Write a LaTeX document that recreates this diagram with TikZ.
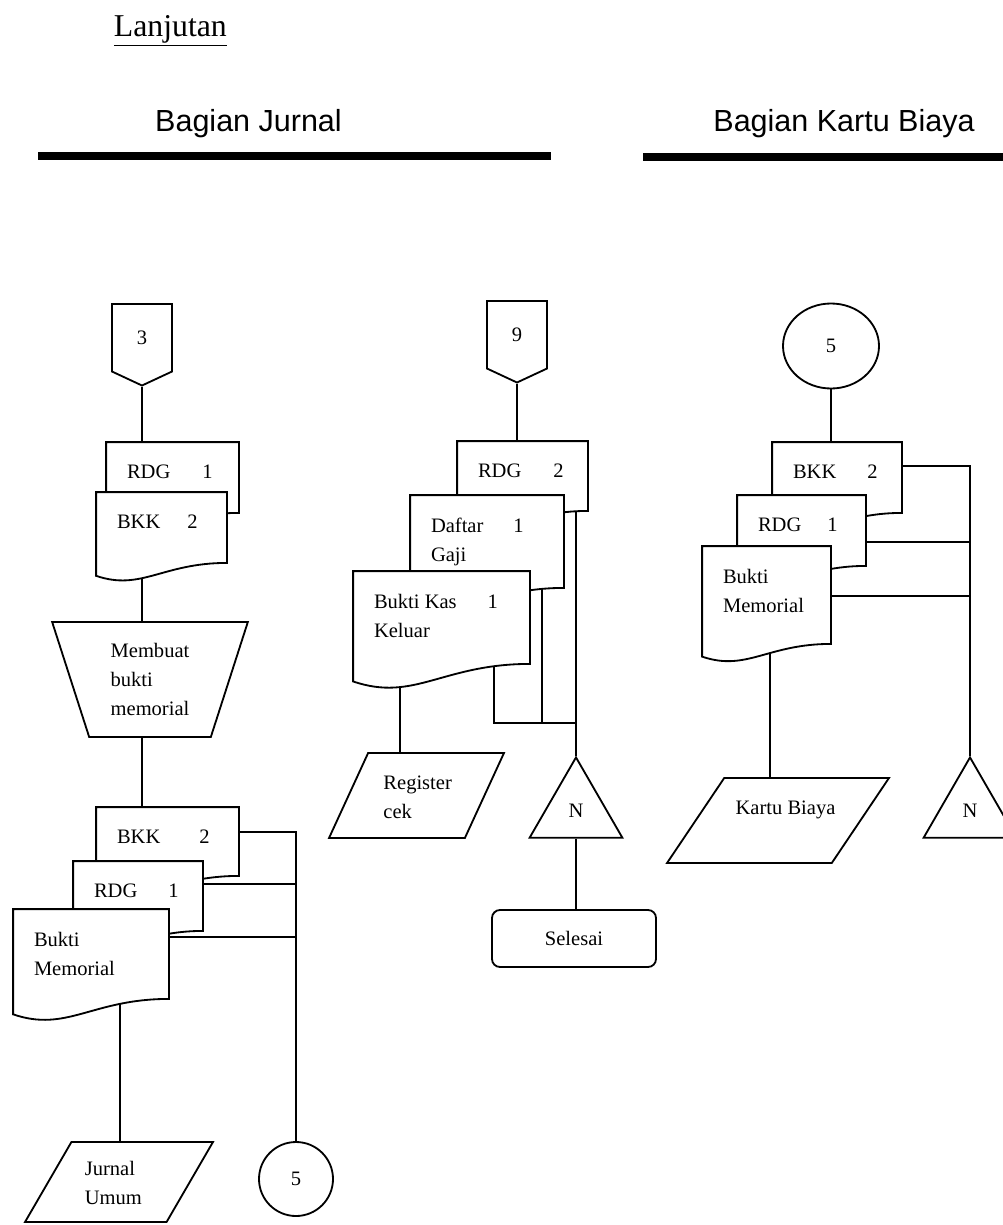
\documentclass[tikz,border=0pt]{standalone}
\usepackage{fontspec}
\setmainfont{Liberation Serif}
\newfontfamily\headfont{Liberation Sans}
\usetikzlibrary{shapes.geometric,shapes.symbols,fit,calc,backgrounds}

\newcommand{\flowfont}{\fontsize{14.6}{20.6}\selectfont}

\tikzset{
  flowline/.style={line width=1.3pt},
  docbox/.style={inner sep=0pt},
  docline/.style={draw, fill=white, line width=1.3pt},
  doctext/.style={font=\flowfont, align=left, inner sep=0pt, anchor=north west},
  offpage/.style={signal, signal to=south, signal from=nowhere, signal pointer angle=130,
    draw, fill=white, line width=1.3pt, font=\flowfont, inner sep=0pt,
    minimum width=15mm, minimum height=17.5mm, anchor=north},
  manualop/.style={trapezium, trapezium left angle=71.7, trapezium right angle=71.7,
    shape border rotate=180, trapezium stretches=true, draw, line width=1.3pt,
    font=\flowfont, align=left, inner sep=0pt, minimum width=49mm, minimum height=28.75mm},
  iobox/.style={trapezium, trapezium stretches=true, draw, line width=1.3pt,
    inner sep=2pt, minimum height=21.25mm},
  onpage/.style={circle, draw, line width=1.3pt, font=\flowfont, inner sep=0pt},
  mergetri/.style={regular polygon, regular polygon sides=3, draw, line width=1.3pt,
    font=\flowfont, inner sep=0pt, minimum size=26.8mm},
  endbox/.style={rectangle, rounded corners=2mm, draw, line width=1.3pt, font=\flowfont,
    minimum width=41mm, minimum height=14.25mm},
  headtext/.style={font=\headfont\fontsize{21.7}{26}\selectfont, anchor=base},
  headrule/.style={line width=2mm},
}

% document sheet: name, left, top, width, height, text
\newcommand{\docsheet}[6]{%
  \node[docbox, fit={(#2,#3) (#2+#4,#3+#5)}] (#1) {};
  \draw[docline] (#1.north west) -- (#1.north east) -- (#1.south east)
    .. controls ($(#1.south east)+(-0.5*#4,0)$) and ($(#1.south west)+(0.35*#4,0.22*#4)$)
    .. ($(#1.south west)+(0,0.1*#4)$) -- cycle;
  \node[doctext] (#1-t) at ([shift={(20,22)}]#1.north west) {#6};
}

\begin{document}
\begin{tikzpicture}[x=0.25mm, y=-0.25mm, flowline]
\useasboundingbox (0,0) rectangle (1003,1225);

% headings
\node[anchor=base west, font=\fontsize{22.6}{26}\selectfont, inner sep=0pt] (lanjut) at (113,37) {\underline{Lanjutan}};
\node[headtext] (hJurnal) at (248.5,132) {Bagian Jurnal};
\node[headtext] (hKartu) at (844,132) {Bagian Kartu Biaya};
\coordinate (ruleJa) at (38,156);
\coordinate (ruleJb) at (551,156);
\coordinate (ruleKa) at (643,157);
\coordinate (ruleKb) at (1010,157);
\draw[headrule] (ruleJa) -- (ruleJb);
\draw[headrule] (ruleKa) -- (ruleKb);

% Bagian Jurnal, first column
\node[offpage] (off3) at (142,303) {3};
\docsheet{rdgA}{107}{443}{131}{69}{RDG\hspace{8mm}1}
\docsheet{bkkA}{97}{493}{129}{69}{BKK\hspace{6.75mm}2}
\node[manualop] (buatBM) at (150,679.5) {Membuat\\bukti\\memorial};
\docsheet{bkkB}{97}{808}{141}{67}{BKK\hspace{9.75mm}2}
\docsheet{rdgB}{74}{862}{128}{68}{RDG\hspace{7.75mm}1}
\docsheet{bmB}{14}{910}{154}{88}{Bukti\\Memorial}
\node[iobox, trapezium left angle=64, trapezium right angle=116, minimum width=47mm, minimum height=20mm] (jurnal) at (119,1182) {};
\node[doctext] (jurnal-t) at ([shift={(13,19)}]jurnal.top left corner) {Jurnal\\Umum};
\node[onpage, minimum size=18.5mm] (fiveB) at (296,1179) {5};

% Bagian Jurnal, second column
\node[offpage] (off9) at (517,300) {9};
\docsheet{rdgC}{458}{442}{129}{68}{RDG\hspace{8mm}2}
\docsheet{gajiC}{411}{496}{152}{91}{Daftar\hspace{7.5mm}1\\Gaji}
\docsheet{kasC}{354}{572}{175}{91}{Bukti Kas\hspace{7.75mm}1\\Keluar}
\node[iobox, trapezium left angle=68, trapezium right angle=112, minimum width=43.75mm] (regcek) at (416.5,795.5) {};
\node[doctext] (regcek-t) at ([shift={(15,23)}]regcek.top left corner) {Register\\cek};
\node[mergetri] (nC) at (576,811) {N};
\node[endbox] (selesai) at (574,938.5) {Selesai};
\coordinate (joinC) at (576,723);

% Bagian Kartu Biaya
\node[onpage, ellipse, minimum width=24mm, minimum height=21.25mm] (fiveD) at (831,346) {5};
\docsheet{bkkD}{773}{443}{128}{69}{BKK\hspace{7.75mm}2}
\docsheet{rdgD}{738}{496}{127}{69}{RDG\hspace{6.5mm}1}
\docsheet{bmD}{703}{547}{127}{96}{Bukti\\Memorial}
\node[iobox, trapezium left angle=62, trapezium right angle=118, minimum width=55.5mm] (kartu) at (778,820.5) {};
\node[doctext] (kartu-t) at ([shift={(11,23)}]kartu.top left corner) {Kartu Biaya};
\node[mergetri] (nD) at (970,811) {N};

% flow lines, kept behind the sheets
\begin{pgfonlayer}{background}
\begin{scope}[flowline]
\draw (off3.south) -- (off3.south |- rdgA.north);
\draw (off3.south |- bkkA.south) -- (off3.south |- buatBM.north);
\draw (off3.south |- buatBM.south) -- (off3.south |- bkkB.north);
\draw (bkkB.north east) ++(0,25) -| (fiveB.north);
\draw (rdgB.north east) ++(0,23) coordinate (rdgBout) -- (rdgBout -| fiveB.north);
\draw (bmB.north east) ++(0,28) coordinate (bmBout) -- (bmBout -| fiveB.north);
\draw (bmB.south west) ++(107,0) coordinate (bmBdown) -- (bmBdown |- jurnal.north);

\draw (off9.south) -- (off9.south |- rdgC.north);
\draw (nC.north |- rdgC.south) -- (nC.north);
\draw (gajiC.south east) ++(-22,0) coordinate (gajiCdown) -- (gajiCdown |- joinC);
\draw (kasC.south east) ++(-36,0) coordinate (kasCdown) -- (kasCdown |- joinC) -- (joinC);
\draw (kasC.south west) ++(47,0) coordinate (kasCout) -- (kasCout |- regcek.north);
\draw (nC.south) -- (nC.south |- selesai.north);

\draw (fiveD.south) -- (fiveD.south |- bkkD.north);
\draw (bkkD.north east) ++(0,24) -| (nD.north);
\draw (rdgD.north east) ++(0,47) coordinate (rdgDout) -- (rdgDout -| nD.north);
\draw (bmD.north east) ++(0,50) coordinate (bmDout) -- (bmDout -| nD.north);
\draw (bmD.south west) ++(68,0) coordinate (bmDdown) -- (bmDdown |- kartu.north);
\end{scope}
\end{pgfonlayer}
\end{tikzpicture}
\end{document}
